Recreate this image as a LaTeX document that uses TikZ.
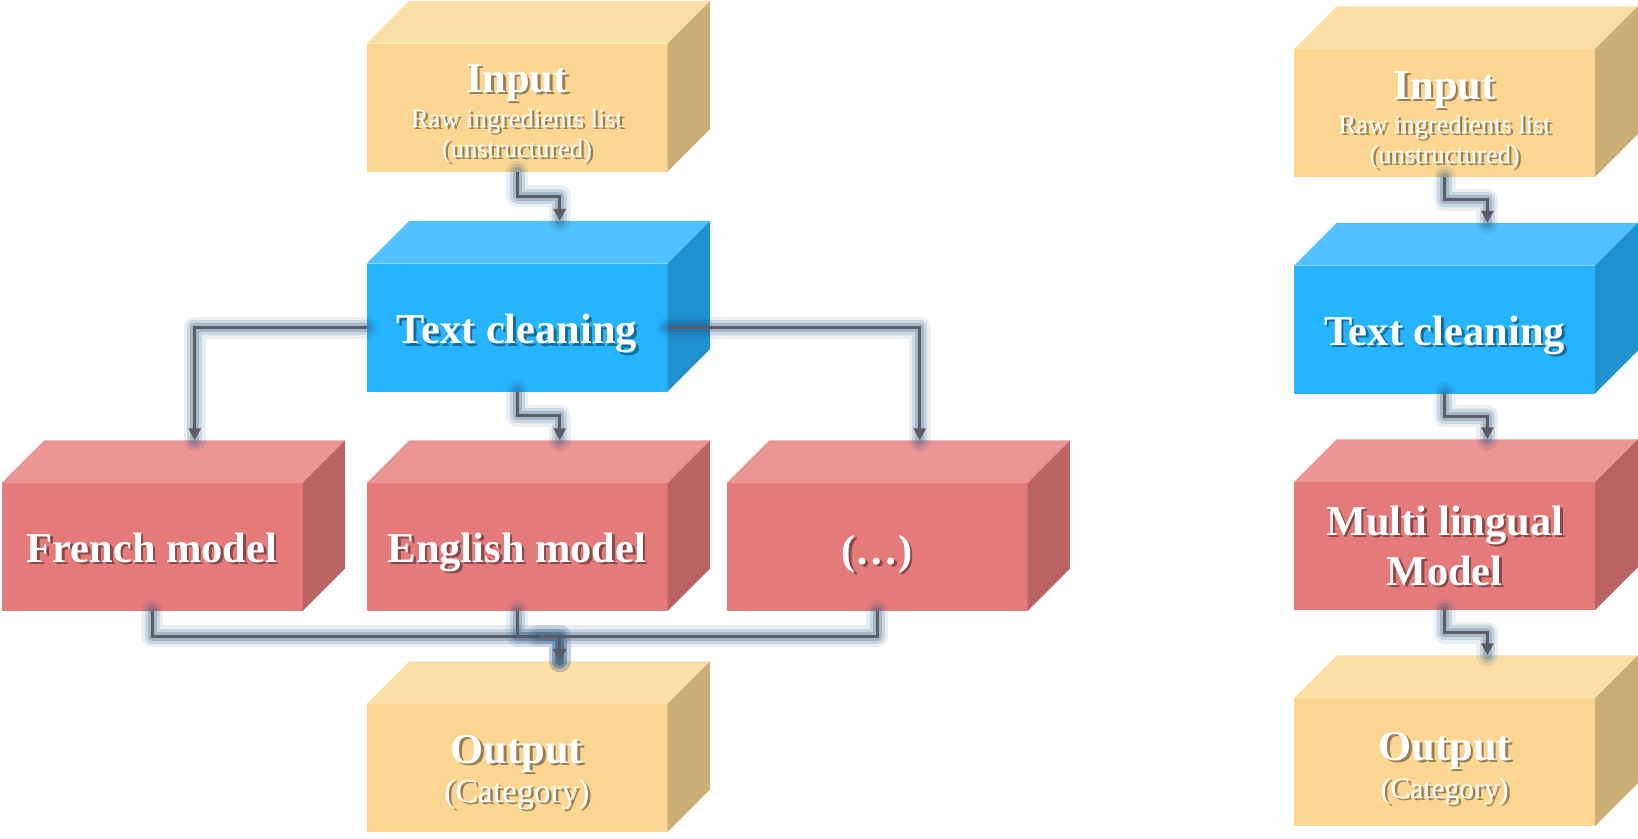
\documentclass[tikz,border=0pt]{standalone}
\usepackage{fontspec}
\setmainfont{Liberation Serif}
\usetikzlibrary{arrows.meta,calc}
\definecolor{ylF}{RGB}{250,214,146}
\definecolor{ylT}{RGB}{250,223,166}
\definecolor{ylS}{RGB}{201,174,117}
\definecolor{blF}{RGB}{38,180,255}
\definecolor{blT}{RGB}{80,192,255}
\definecolor{blS}{RGB}{32,145,207}
\definecolor{rdF}{RGB}{229,122,122}
\definecolor{rdT}{RGB}{234,148,148}
\definecolor{rdS}{RGB}{185,99,99}
\definecolor{lineC}{RGB}{92,92,98}
\definecolor{glowC}{RGB}{40,85,130}
\def\dd{42.7}
\def\bw{301}
\def\bh{128}
\newcommand\ttlfont{\fontsize{42.5}{50}\selectfont\bfseries}
\newcommand\subfont{\fontsize{26.5}{30}\selectfont}
\newcommand\catLfont{\fontsize{33.5}{38}\selectfont}
\newcommand\catRfont{\fontsize{29.5}{34}\selectfont}
\tikzset{
  front/.style={minimum width=\bw pt, minimum height=\bh pt, inner sep=0pt, outer sep=0pt, draw=none},
  txt/.style={anchor=base, inner sep=0pt, text=white},
  tsh/.style={anchor=base, inner sep=0pt, text=black, text opacity=0.4},
  glowA/.style={draw=glowC, line width=22pt, opacity=0.10, line join=round, line cap=round},
  glowB/.style={draw=glowC, line width=15pt, opacity=0.16, line join=round, line cap=round},
  glowD/.style={draw=glowC, line width=9pt, opacity=0.24, line join=round, line cap=round},
  conn/.style={draw=lineC, line width=3pt, -{Triangle[length=12pt,width=12pt]}}
}
\newcommand\cubebox[4]{%
  \node[front, fill=#4F] (#1) at (#2,#3) {};
  \fill[#4T] (#1.north west) -- ++(\dd,-\dd) -- ++(\bw,0) -- (#1.north east) -- cycle;
  \fill[#4S] (#1.north east) -- ++(\dd,-\dd) -- ++(0,\bh) -- ($(#1.south east)+(\dd,-\dd)$) -- (#1.south east) -- cycle;
  \coordinate (#1-top) at ($(#1.north)+(\dd,-\dd)$);
}
\newcommand\tline[5]{%
  \node[tsh, font=#4] at ($(#2.center)+(2.5,#3+2.5)$) {#5};
  \node[txt, font=#4] (#1) at ($(#2.center)+(0,#3)$) {#5};
}
\newcommand\conn[1]{%
  \draw[glowA] #1; \draw[glowB] #1; \draw[glowD] #1; \draw[conn] #1;
}
\begin{document}
\begin{tikzpicture}[x=1pt,y=-1pt]
\useasboundingbox (0,0) rectangle (1638,838);
% left column
\cubebox{inL}{517}{107.5}{yl}
\cubebox{tcL}{517}{327.5}{bl}
\cubebox{frL}{152}{547}{rd}
\cubebox{enL}{517}{547}{rd}
\cubebox{etL}{877}{547}{rd}
\cubebox{outL}{517}{768}{yl}
% right column
\cubebox{inR}{1444.7}{113}{yl}
\cubebox{tcR}{1444.7}{329.5}{bl}
\cubebox{mlR}{1444.7}{546}{rd}
\cubebox{outR}{1444.7}{762}{yl}
% texts
\tline{inLa}{inL}{-15.5}{\ttlfont}{Input}
\tline{inLb}{inL}{19.5}{\subfont}{Raw ingredients list}
\tline{inLc}{inL}{49.5}{\subfont}{(unstructured)}
\tline{tcLa}{tcL}{16}{\ttlfont}{Text cleaning}
\tline{frLa}{frL}{15}{\ttlfont}{French model}
\tline{enLa}{enL}{15}{\ttlfont}{English model}
\tline{etLa}{etL}{17}{\ttlfont}{(…)}
\tline{outLa}{outL}{-5}{\ttlfont}{Output}
\tline{outLb}{outL}{34}{\catLfont}{(Category)}
\tline{inRa}{inR}{-14}{\ttlfont}{Input}
\tline{inRb}{inR}{20}{\subfont}{Raw ingredients list}
\tline{inRc}{inR}{50}{\subfont}{(unstructured)}
\tline{tcRa}{tcR}{15.5}{\ttlfont}{Text cleaning}
\tline{mlRa}{mlR}{-11}{\ttlfont}{Multi lingual}
\tline{mlRb}{mlR}{39}{\ttlfont}{Model}
\tline{outRa}{outR}{-2}{\ttlfont}{Output}
\tline{outRb}{outR}{36}{\catRfont}{(Category)}
% connectors left
\conn{(inL.south) |- ($(inL.south)!.5!(tcL-top)$) -| (tcL-top)}
\conn{(tcL.west) -| (frL-top)}
\conn{(tcL.east) -| (etL-top)}
\conn{(tcL.south) |- ($(tcL.south)!.5!(enL-top)$) -| (enL-top)}
\conn{(frL.south) |- ($(enL.south)!.5!(outL-top)$) -| (outL-top)}
\conn{(enL.south) |- ($(enL.south)!.5!(outL-top)$) -| (outL-top)}
\conn{(etL.south) |- ($(enL.south)!.5!(outL-top)$) -| (outL-top)}
% connectors right
\conn{(inR.south) |- ($(inR.south)!.5!(tcR-top)$) -| (tcR-top)}
\conn{(tcR.south) |- ($(tcR.south)!.5!(mlR-top)$) -| (mlR-top)}
\conn{(mlR.south) |- ($(mlR.south)!.5!(outR-top)$) -| (outR-top)}
\end{tikzpicture}
\end{document}
